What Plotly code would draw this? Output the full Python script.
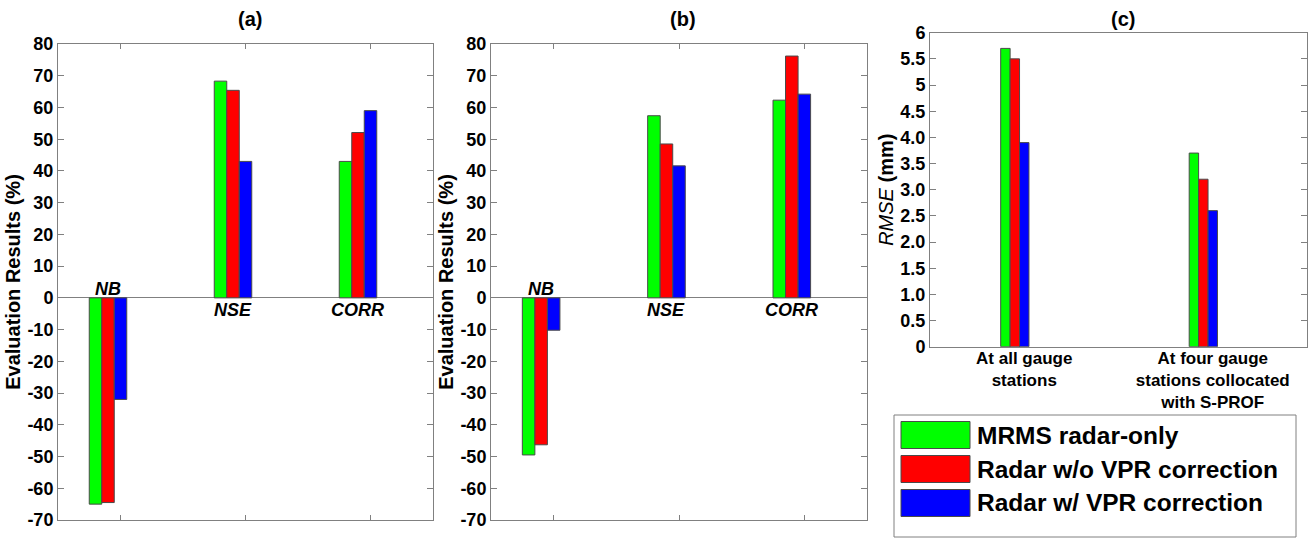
import plotly.graph_objects as go

# ---------------- data ----------------
metrics = ["NB", "NSE", "CORR"]
series_names = ["MRMS radar-only", "Radar w/o VPR correction", "Radar w/ VPR correction"]
colors = ["#00FF00", "#FF0000", "#0000FF"]

a_mrms = [-65.0, 68.3, 43.0]
a_novpr = [-64.5, 65.4, 52.1]
a_vpr = [-32.0, 43.0, 59.0]

b_mrms = [-49.5, 57.4, 62.3]
b_novpr = [-46.3, 48.5, 76.2]
b_vpr = [-10.2, 41.6, 64.2]

c_cats = ["At all gauge<br>stations", "At four gauge<br>stations collocated<br>with S-PROF"]
c_mrms = [5.7, 3.7]
c_novpr = [5.5, 3.2]
c_vpr = [3.9, 2.6]

pct_ticks = list(range(-70, 81, 10))
rmse_tickvals = [0, 0.5, 1.0, 1.5, 2.0, 2.5, 3.0, 3.5, 4.0, 4.5, 5, 5.5, 6]
rmse_ticktext = ["0", "0.5", "1.0", "1.5", "2.0", "2.5", "3.0", "3.5", "4.0", "4.5", "5", "5.5", "6"]

FONT = "Arial, Liberation Sans, sans-serif"
W, H = 1309, 539

def px_x(p):
    return p / W

def px_y(p):
    return 1 - p / H

fig = go.Figure()

panels = [
    ("x", "y", metrics, [a_mrms, a_novpr, a_vpr], 0.1),
    ("x2", "y2", metrics, [b_mrms, b_novpr, b_vpr], 0.1),
    ("x3", "y3", c_cats, [c_mrms, c_novpr, c_vpr], 0.05),
]

for xa, ya, cats, vals_list, w in panels:
    for i, (vals, col, name) in enumerate(zip(vals_list, colors, series_names)):
        fig.add_trace(go.Bar(
            x=cats, y=vals, xaxis=xa, yaxis=ya, name=name,
            marker=dict(color=col, line=dict(color="#4a4a4a", width=1)),
            width=w, offset=-2.5 * w + i * w,
            showlegend=False, hoverinfo="y",
        ))

axis_common = dict(
    showline=True, linecolor="#808080", linewidth=1, mirror="allticks",
    ticks="inside", tickcolor="#808080", showgrid=False,
    tickfont=dict(family=FONT, size=18, color="black"),
)

xdom_a = [px_x(58), px_x(433)]
xdom_b = [px_x(491), px_x(867)]
xdom_c = [px_x(930), px_x(1307)]
ydom_ab = [px_y(520), px_y(44)]
ydom_c = [px_y(346.7), px_y(32.7)]

ytitle_font = dict(family=FONT, size=20, color="black")

fig.update_layout(
    width=W, height=H, autosize=False,
    margin=dict(l=0, r=0, t=0, b=0, pad=0, autoexpand=False),
    paper_bgcolor="white", plot_bgcolor="white",
    barmode="overlay", showlegend=False,
    font=dict(family=FONT, color="black"),
    xaxis=dict(domain=xdom_a, anchor="y", type="category", range=[-0.5, 2.5],
               showticklabels=False, ticklen=5, automargin=False, **axis_common),
    yaxis=dict(domain=ydom_ab, anchor="x", range=[-70, 80], tickvals=pct_ticks,
               ticktext=["<b>%d</b>" % v for v in pct_ticks], ticklen=6, automargin=True,
               zeroline=True, zerolinecolor="#808080", zerolinewidth=1,
               title=dict(text="<b>Evaluation Results (%)</b>", font=ytitle_font, standoff=1),
               **axis_common),
    xaxis2=dict(domain=xdom_b, anchor="y2", type="category", range=[-0.5, 2.5],
                showticklabels=False, ticklen=5, automargin=False, **axis_common),
    yaxis2=dict(domain=ydom_ab, anchor="x2", range=[-70, 80], tickvals=pct_ticks,
                ticktext=["<b>%d</b>" % v for v in pct_ticks], ticklen=6, automargin=True,
                zeroline=True, zerolinecolor="#808080", zerolinewidth=1,
                title=dict(text="<b>Evaluation Results (%)</b>", font=ytitle_font, standoff=1),
                **axis_common),
    xaxis3=dict(domain=xdom_c, anchor="y3", type="category", range=[-0.5, 1.5],
                tickvals=c_cats, ticktext=["<b>%s</b>" % c for c in c_cats],
                ticklen=0, automargin=False, ticklabelstandoff=-4,
                **{k: v for k, v in axis_common.items() if k != "tickfont"},
                tickfont=dict(family=FONT, size=17, color="black")),
    yaxis3=dict(domain=ydom_c, anchor="x3", range=[0, 6], tickvals=rmse_tickvals,
                ticktext=["<b>%s</b>" % t for t in rmse_ticktext], ticklen=6, automargin=True,
                title=dict(text="<i>RMSE</i> <b>(mm)</b>", font=ytitle_font, standoff=1),
                **axis_common),
)

annotations = []
# panel titles
for label, xd in [("(a)", xdom_a), ("(b)", xdom_b), ("(c)", xdom_c)]:
    annotations.append(dict(
        text="<b>%s</b>" % label, xref="paper", yref="paper",
        x=(xd[0] + xd[1]) / 2 + 4 / W, y=px_y(19), showarrow=False,
        xanchor="center", yanchor="middle",
        font=dict(family=FONT, size=20, color="black")))

# metric labels near the zero line
for xa, ya in [("x", "y"), ("x2", "y2")]:
    for m in metrics:
        above = (m == "NB")
        annotations.append(dict(
            text="<b><i>%s</i></b>" % m, xref=xa, yref=ya, x=m, y=0,
            xshift=-13, yshift=9 if above else -12, showarrow=False,
            xanchor="center", yanchor="middle",
            font=dict(family=FONT, size=18, color="black")))

# manual legend (large swatches)
leg_left, leg_right, leg_top, leg_bottom = 894, 1296, 415, 537
shapes = [dict(type="rect", xref="paper", yref="paper",
               x0=px_x(leg_left), x1=px_x(leg_right), y0=px_y(leg_bottom), y1=px_y(leg_top),
               line=dict(color="#808080", width=1), fillcolor="white", layer="above")]
for i, (name, col) in enumerate(zip(series_names, colors)):
    cy = 435 + i * 34
    shapes.append(dict(type="rect", xref="paper", yref="paper",
                       x0=px_x(901), x1=px_x(970), y0=px_y(cy + 13.5), y1=px_y(cy - 13.5),
                       line=dict(color="#4a4a4a", width=1), fillcolor=col, layer="above"))
    annotations.append(dict(
        text="<b>%s</b>" % name, xref="paper", yref="paper",
        x=px_x(975), y=px_y(cy), showarrow=False, xanchor="left", yanchor="middle",
        font=dict(family=FONT, size=24.5, color="black")))

fig.update_layout(annotations=annotations, shapes=shapes)

fig.write_html("out.html")
